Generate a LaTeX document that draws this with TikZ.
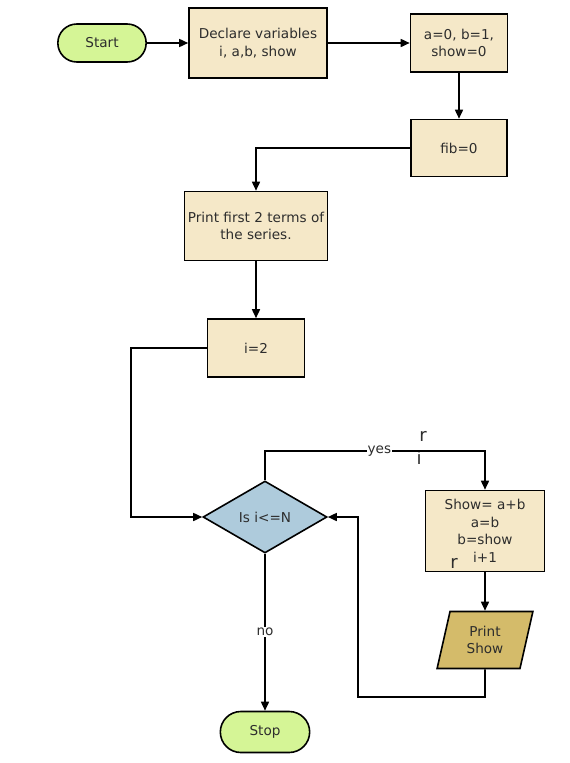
\documentclass[tikz,border=0pt]{standalone}
\usepackage{fontspec}
\setmainfont{DejaVu Sans}
\usetikzlibrary{shapes.geometric, shapes.misc, arrows.meta}
\definecolor{termfill}{RGB}{213,245,150}
\definecolor{procfill}{RGB}{245,232,200}
\definecolor{testfill}{RGB}{174,203,220}
\definecolor{iofill}{RGB}{212,187,106}
\definecolor{txt}{RGB}{45,45,45}
\begin{document}
\begin{tikzpicture}[
	x=1pt, y=-1pt,
	every node/.style={font=\fontsize{13.6}{17.5}\selectfont, text=txt},
	termnode/.style={shape=rounded rectangle, fill=termfill, draw=black, line width=1.6pt, minimum height=38pt},
	procnode/.style={shape=rectangle, fill=procfill, draw=black, line width=1.6pt, align=center},
	testnode/.style={shape=diamond, fill=testfill, draw=black, line width=1.6pt, inner sep=0pt, minimum width=124pt, minimum height=72pt},
	ionode/.style={shape=trapezium, trapezium left angle=77, trapezium right angle=103, fill=iofill, draw=black, line width=1.6pt, align=center, minimum width=96pt, minimum height=57pt, trapezium stretches=true},
	flow/.style={line width=1.6pt, -{Triangle[length=9pt, width=8pt]}},
	lbl/.style={fill=white, inner sep=1pt},
	stray/.style={font=\fontsize{18}{20}\selectfont},
]
\useasboundingbox (0,0) rectangle (570,763);

\node[termnode, minimum width=95pt] (start) at (102,43) {Start};
\node[procnode, minimum width=138pt, minimum height=70pt] (declare) at (258,43) {Declare variables\\i, a,b, show};
\node[procnode, minimum width=97pt, minimum height=58pt] (init) at (459,43) {a=0, b=1,\\show=0};
\node[procnode, minimum width=96pt, minimum height=57pt] (fib) at (459,148) {fib=0};
\node[procnode, minimum width=143pt, minimum height=69pt] (printtwo) at (256,226) {Print first 2 terms of\\the series.};
\node[procnode, minimum width=97pt, minimum height=58pt] (itwo) at (256,348) {i=2};
\node[testnode] (test) at (265,517) {Is i<=N};
\node[procnode, minimum width=119pt, minimum height=81pt] (update) at (485,531) {Show= a+b\\a=b\\b=show\\i+1};
\node[ionode] (printshow) at (485,640) {Print\\Show};
\node[termnode, minimum width=96pt, minimum height=41pt] (stop) at (265,732) {Stop};

\node[stray] (strayr) at (423,436) {r};
\node[stray] (strayi) at (419,458) {i};
\node[stray] (strayrr) at (454,563) {r};

\coordinate (loopin) at (131,348);
\coordinate (yesleft) at (265,451);
\coordinate (yesright) at (485,451);
\coordinate (backright) at (485,697);
\coordinate (backleft) at (358,697);

\draw[flow] (start) -- (declare);
\draw[flow] (declare) -- (init);
\draw[flow] (init) -- (fib);
\draw[flow] (fib.west) -| (printtwo.north);
\draw[flow] (printtwo) -- (itwo);
\draw[flow] (itwo.west) -- (loopin) |- (test.west);
\draw[flow] (test.north) -- (yesleft) -- node[lbl, pos=0.52] {yes} (yesright) -- (update.north);
\draw[flow] (update) -- (printshow);
\draw[flow] (printshow.south) -- (backright) -- (backleft) |- (test.east);
\draw[flow] (test.south) -- node[lbl] {no} (stop.north);
\end{tikzpicture}
\end{document}
